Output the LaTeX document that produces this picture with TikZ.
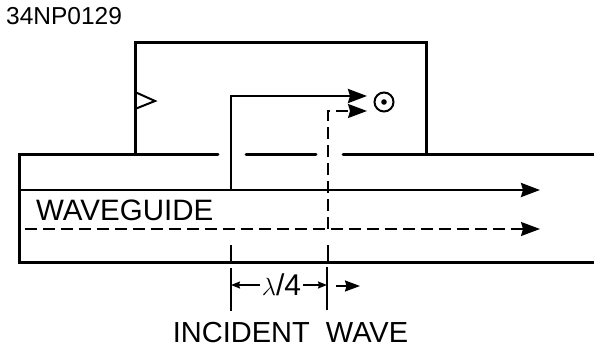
\documentclass[tikz,border=0pt]{standalone}
\usepackage{fontspec}
\setmainfont{Liberation Sans}
\usetikzlibrary{arrows.meta,positioning,calc}
\tikzset{
  wall/.style={line width=3pt,line cap=round},
  ray/.style={line width=2.6pt,-{Stealth[length=19pt,width=14pt,inset=2pt]}},
  rayd/.style={line width=1.5pt,dash pattern=on 12pt off 6pt,-{Stealth[length=19pt,width=14pt,inset=2pt]}},
  tick/.style={line width=1.7pt},
  dim/.style={line width=1.5pt,-{Stealth[length=9pt,width=7pt,inset=1pt]}},
  lbl/.style={inner sep=0pt,font=\fontsize{29pt}{32pt}\selectfont}
}
\begin{document}
\begin{tikzpicture}[x=1pt,y=-1pt]
\useasboundingbox (0,0) rectangle (594,350);
\node[lbl,font=\fontsize{24.5pt}{26pt}\selectfont,anchor=west] (code) at (6,16) {34NP0129};
\node[lbl,font=\fontsize{29.5pt}{32pt}\selectfont,anchor=west] (guide) at (36,210) {WAVEGUIDE};
\node[lbl,font=\fontsize{30pt}{32pt}\selectfont,anchor=center] (dist) at (281.5,285) {$\lambda$/4};
\node[lbl] (inc) at (290.5,333) {INCIDENT\ \ WAVE};
\node[circle,draw,line width=2pt,minimum size=19pt,inner sep=0pt] (pol) at (384,102) {};
\fill (pol) circle (2.8pt);

\coordinate (wgA) at (594,154);
\coordinate (wgB) at (19,154);
\coordinate (wgC) at (19,262);
\coordinate (wgD) at (594,262);
\draw[wall] (218,154) -- (wgB) -- (wgC) -- (wgD);
\draw[wall] (246,154) -- (316,154);
\draw[wall] (343,154) -- (wgA);
\draw[wall] (135,154) -- (135,43) -- (426,43) -- (426,154);
\draw[line width=2pt] (135,92) -- (155,101) -- (135,109);

\coordinate (solidS) at (231,190);
\coordinate (dashS) at (328,229);
\coordinate (solidE) at (367,96);
\coordinate (dashE) at (367,111);
\draw[ray] (19,190) -- (540,190);
\draw[rayd] (25,229) -- (540,229);
\draw[ray] (solidS) -- (231,96) -- (solidE);
\draw[rayd] (dashS) -- (328,111) -- (dashE);

\coordinate (tA) at (231,245);
\coordinate (tB) at (328,245);
\draw[tick] (tA) -- (231,262);
\draw[tick] (tB) -- (328,262);
\draw[tick] (231,268) -- (231,311);
\draw[tick] (327,267) -- (327,310);
\draw[dim] (dist.west) ++(-2,0) -- (231,285);
\draw[dim] (dist.east) ++(2,0) -- (327,285);
\draw[line width=1.7pt,-{Stealth[length=15pt,width=11pt,inset=1.5pt]}] (336,286) -- (360,286);
\end{tikzpicture}
\end{document}
